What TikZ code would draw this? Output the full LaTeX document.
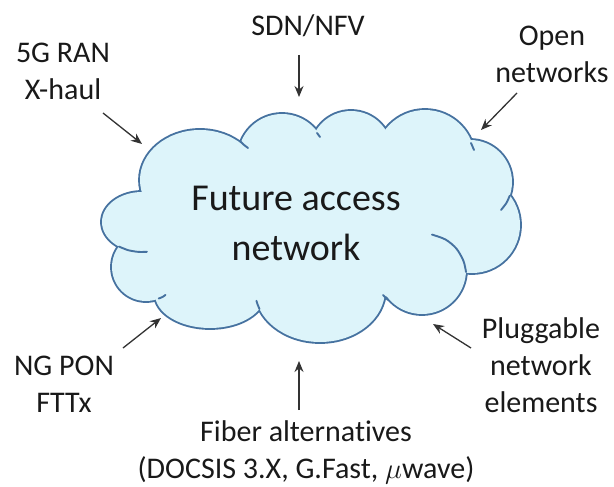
\documentclass[tikz,border=0pt]{standalone}
\usepackage{fontspec}
\setmainfont{Carlito}[Ligatures=NoCommon]
\usetikzlibrary{arrows.meta}

\definecolor{cloudfill}{RGB}{221,244,250}
\definecolor{cloudline}{RGB}{70,114,160}
\definecolor{inktext}{RGB}{25,25,25}

% lobes of the cloud: centre / x radius / y radius
\newcommand\cloudlobes{(200,180)/60/50, (282,158)/44/44, (351,152)/41/41,
  (425,160)/50/50, (470,182)/42/42, (472,225)/48/48, (422,270)/44/44,
  (320,290)/65/52, (210,294)/55/34, (146,267)/34/34, (142,222)/40/30}

\begin{document}
\begin{tikzpicture}[
  x=0.5pt, y=-0.5pt,
  driver/.style={align=center, inner sep=0pt, text=inktext, font=\fontsize{15}{18.5}\selectfont},
  core/.style={align=center, inner sep=0pt, text=inktext, font=\fontsize{19}{25}\selectfont},
  rim/.style={draw=cloudline, line width=1.9pt},
  crease/.style={draw=cloudline, line width=0.95pt, line cap=round},
  feed/.style={-{Stealth[length=5.5pt,width=4.5pt]}, line width=0.65pt, draw=black!80}
]
\useasboundingbox (0,0) rectangle (614,486);

\foreach \c/\a/\b in \cloudlobes
  \draw[rim] \c ellipse[x radius=\a, y radius=\b];
\foreach \c/\a/\b in \cloudlobes
  \fill[cloudfill] \c ellipse[x radius=\a, y radius=\b];
\fill[cloudfill] (310,225) ellipse[x radius=170, y radius=80];

\draw[crease] plot[smooth] coordinates {(240,141) (243.5,144.5) (248,148)};
\draw[crease] plot[smooth] coordinates {(317,133) (320,137)};
\draw[crease] plot[smooth] coordinates {(471,143) (474,150)};
\draw[crease] plot[smooth] coordinates {(509.7,195.7) (506.4,203) (501,210)};
\draw[crease] plot[smooth] coordinates {(432,234.6) (445.5,239.5) (456.4,248.6) (463.5,261) (466,272)};
\draw[crease] plot[smooth] coordinates {(388,300) (383,295)};
\draw[crease] plot[smooth] coordinates {(259.5,309) (257.8,305) (256.4,300.8)};
\draw[crease] plot[smooth] coordinates {(158.7,298.5) (162.5,297) (165.5,294.9)};
\draw[crease] plot[smooth] coordinates {(119,246.6) (128.3,250.2) (138.5,251.9) (146.9,251.8)};

\node[core] (fan) at (296,223) {Future access\\network};

\node[driver, anchor=base] (sdn) at (308,36) {SDN/NFV};
\node[driver] (ran) at (63,71) {5G RAN\\X-haul};
\node[driver] (open) at (552,54) {Open\\networks};
\node[driver] (pon) at (64,384) {NG PON\\FTTx};
\node[driver] (plug) at (541,365) {Pluggable\\network\\elements};
\node[driver] (fiber) at (306,452) {Fiber alternatives\\(DOCSIS 3.X, G.Fast, $\mu$wave)};

\coordinate (sdnTail) at (299,55);   \coordinate (sdnHead) at (299,97);
\coordinate (ranTail) at (103,113);  \coordinate (ranHead) at (142,144);
\coordinate (openTail) at (517,93);  \coordinate (openHead) at (481,130);
\coordinate (ponTail) at (123,348);  \coordinate (ponHead) at (161,318);
\coordinate (plugTail) at (471,348); \coordinate (plugHead) at (433,324);
\coordinate (fiberTail) at (299,410); \coordinate (fiberHead) at (299,361);

\draw[feed] (sdnTail) -- (sdnHead);
\draw[feed] (ranTail) -- (ranHead);
\draw[feed] (openTail) -- (openHead);
\draw[feed] (ponTail) -- (ponHead);
\draw[feed] (plugTail) -- (plugHead);
\draw[feed] (fiberTail) -- (fiberHead);

\end{tikzpicture}
\end{document}
